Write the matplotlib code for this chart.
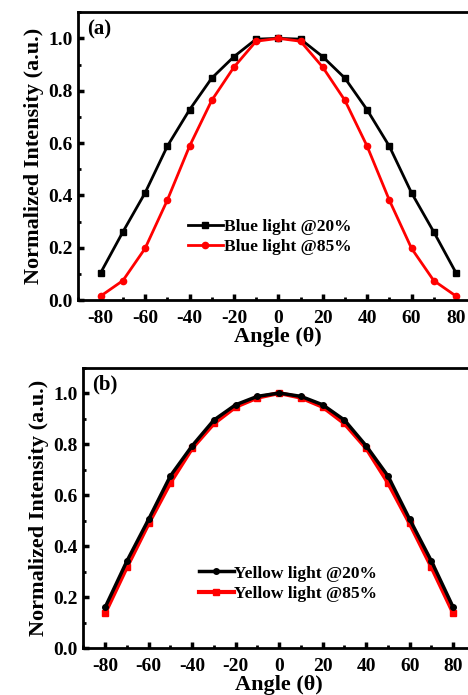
import matplotlib
matplotlib.use("Agg")
import matplotlib.pyplot as plt
from matplotlib.ticker import MultipleLocator

plt.rcParams["font.family"] = ["Liberation Serif", "DejaVu Serif"]
plt.rcParams["font.weight"] = "bold"
plt.rcParams["axes.unicode_minus"] = False

angles = [-80, -70, -60, -50, -40, -30, -20, -10, 0, 10, 20, 30, 40, 50, 60, 70, 80]

blue_20 = [0.105, 0.261, 0.41, 0.588, 0.727, 0.848, 0.93, 0.997, 1.0,
           0.997, 0.93, 0.848, 0.727, 0.588, 0.41, 0.261, 0.105]
blue_85 = [0.016, 0.075, 0.198, 0.382, 0.588, 0.763, 0.89, 0.989, 1.0,
           0.989, 0.89, 0.763, 0.588, 0.382, 0.198, 0.075, 0.016]

yellow_20 = [0.16, 0.341, 0.505, 0.675, 0.793, 0.894, 0.954, 0.987, 1.0,
             0.987, 0.954, 0.894, 0.793, 0.675, 0.505, 0.341, 0.16]
yellow_85 = [0.138, 0.318, 0.489, 0.649, 0.784, 0.881, 0.946, 0.982, 1.0,
             0.982, 0.946, 0.881, 0.784, 0.649, 0.489, 0.318, 0.138]

LEGEND_FONT = {"family": "Liberation Serif", "weight": "bold", "size": 12.5}


def style_axes(ax, label):
    ax.set_xlim(-90, 90)
    ax.set_ylim(0, 1.1)
    ax.xaxis.set_major_locator(MultipleLocator(20))
    ax.xaxis.set_minor_locator(MultipleLocator(10))
    ax.yaxis.set_major_locator(MultipleLocator(0.2))
    ax.yaxis.set_minor_locator(MultipleLocator(0.1))
    ax.yaxis.set_major_formatter(plt.FuncFormatter(lambda v, p: f"{v:.1f}"))
    ax.tick_params(which="major", direction="in", length=4, width=2.5,
                   labelsize=14, pad=4)
    ax.tick_params(axis="x", which="major", pad=7)
    ax.tick_params(which="minor", direction="in", length=2.5, width=2)
    for sp in ax.spines.values():
        sp.set_linewidth(2)
    for t in ax.get_xticklabels() + ax.get_yticklabels():
        t.set_fontweight("bold")
    ax.set_xlabel("Angle (θ)", fontsize=16, fontweight="bold", labelpad=0)
    ax.set_ylabel("Normalized Intensity (a.u.)", fontsize=16, fontweight="bold", labelpad=3)
    ax.text(0.022, 0.975, label, transform=ax.transAxes, fontsize=15,
            fontweight="bold", va="top", ha="left")


fig = plt.figure(figsize=(4.68, 6.95), dpi=100)

ax1 = fig.add_axes([0.1677, 0.568, 0.854, 0.4145])
ax1.plot(angles, blue_20, color="black", lw=2, marker="s", ms=5, label="Blue light @20%")
ax1.plot(angles, blue_85, color="red", lw=2, marker="o", ms=4.5, label="Blue light @85%")
style_axes(ax1, "(a)")
ax1.legend(loc="center left", bbox_to_anchor=(0.235, 0.22), frameon=False,
           handlelength=2.0, handletextpad=0.05, labelspacing=0.25,
           prop=LEGEND_FONT)

ax2 = fig.add_axes([0.178, 0.0672, 0.837, 0.404])
ax2.plot(angles, yellow_85, color="red", lw=3, marker="s", ms=4.5, label="Yellow light @85%")
ax2.plot(angles, yellow_20, color="black", lw=2.5, marker="o", ms=4, label="Yellow light @20%")
style_axes(ax2, "(b)")
h, l = ax2.get_legend_handles_labels()
ax2.legend(h[::-1], l[::-1], loc="center left", bbox_to_anchor=(0.255, 0.23), frameon=False,
           handlelength=2.0, handletextpad=0.05, labelspacing=0.25,
           prop=LEGEND_FONT)

fig.savefig("out.png", dpi=100)
